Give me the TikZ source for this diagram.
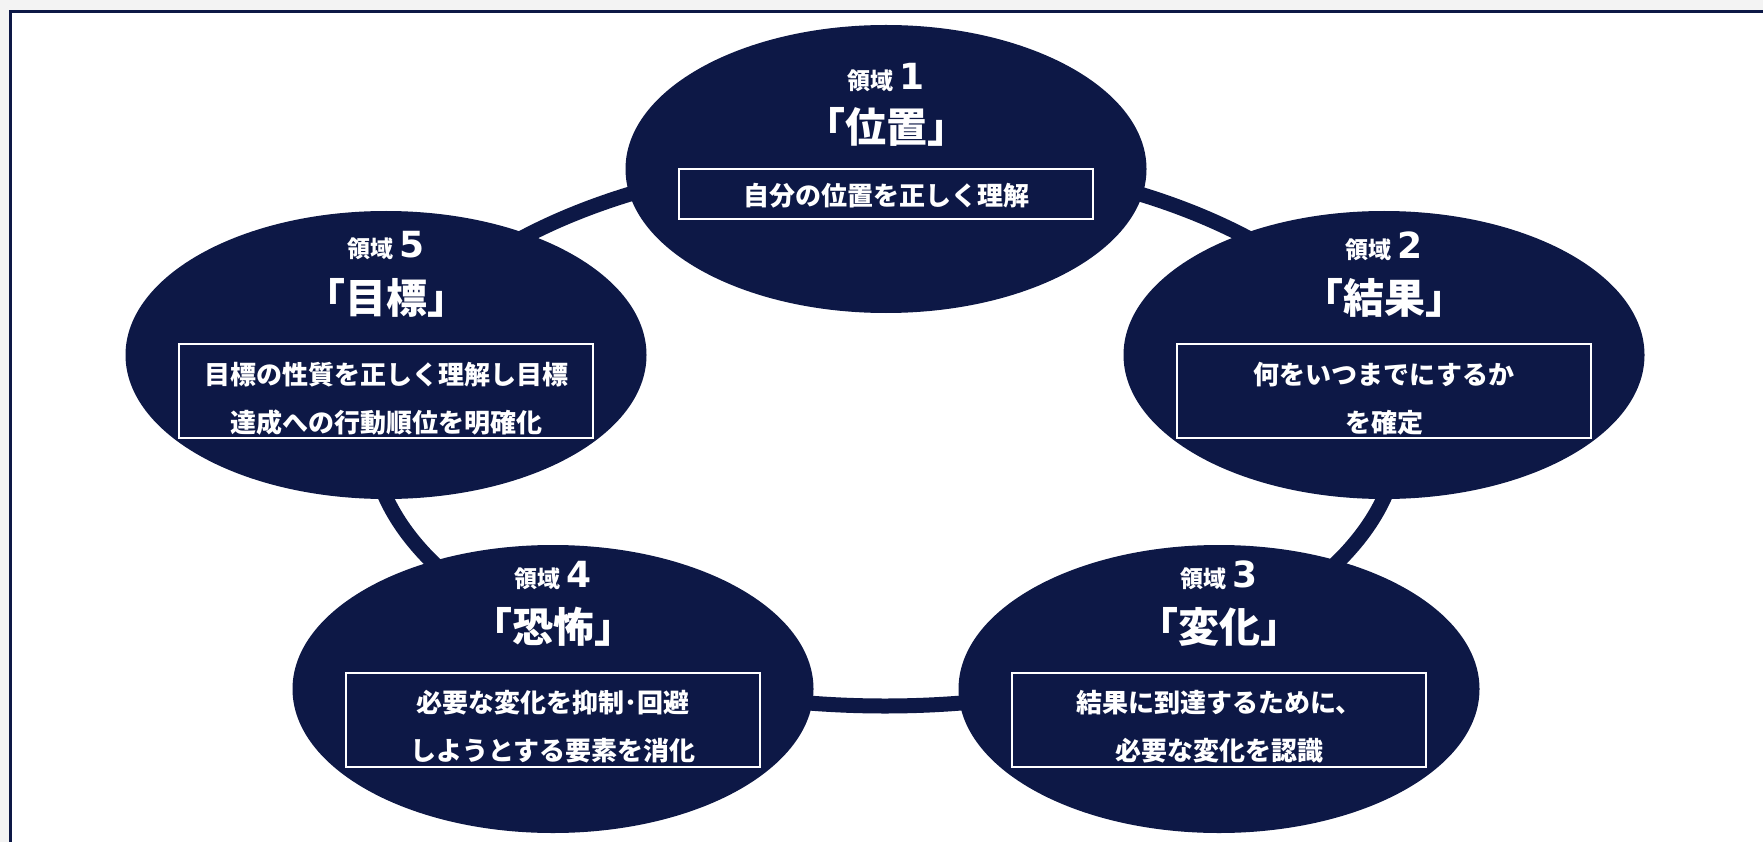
\documentclass[tikz,border=0pt]{standalone}
\usepackage{fontspec}
\setmainfont{Noto Sans CJK JP}
\newfontfamily\numfont{DejaVu Sans}
\usetikzlibrary{shapes.geometric}
\definecolor{navy}{RGB}{13,24,70}
\definecolor{bggray}{RGB}{243,243,243}
\newcommand{\areanum}[1]{{\numfont\bfseries\fontsize{36}{36}\selectfont #1}}
\begin{document}
\begin{tikzpicture}[x=1pt,y=-1pt,
  area/.style={ellipse, fill=navy, minimum width=521pt, minimum height=288pt, inner sep=0pt, outer sep=0pt},
  lbl/.style={text=white, inner sep=0pt, font=\bfseries\fontsize{23}{23}\selectfont},
  ttl/.style={text=white, inner sep=0pt, font=\bfseries\fontsize{41}{41}\selectfont},
  onebox/.style={draw=white, line width=2.2pt, minimum width=414pt, minimum height=50pt, inner sep=0pt},
  twobox/.style={draw=white, line width=2.2pt, minimum width=414pt, minimum height=94pt, inner sep=0pt},
  desc/.style={text=white, inner sep=0pt, align=center, font=\bfseries\fontsize{26}{48}\selectfont},
  ring/.style={draw=navy, line width=15pt}
]
\useasboundingbox (0,0) rectangle (1763,842);
\fill[bggray] (0,0) rectangle (1763,842);
\fill[white] (10.5,11.5) rectangle (1763,842);
\draw[navy, line width=3pt] (10.5,842) -- (10.5,11.5) -- (1763,11.5);

% ring behind the areas
\coordinate (rc) at (885,432);
\draw[ring] (rc) ellipse [x radius=514pt, y radius=274pt];

% areas
\node[area] (e1) at (886,169) {};
\node[area] (e2) at (1384,355) {};
\node[area] (e3) at (1219,689) {};
\node[area] (e4) at (553,689) {};
\node[area] (e5) at (386,355) {};

% area 1
\node[lbl] (l1) at (886,78) {領域 \areanum{1}};
\node[ttl] (t1) at (886,127) {「位置」};
\node[onebox] (b1) at (886,194) {};
\node[desc] (d1) at (886,196) {自分の位置を正しく理解};

% area 2
\node[lbl] (l2) at (1384,246) {領域 \areanum{2}};
\node[ttl] (t2) at (1384,298) {「結果」};
\node[twobox] (b2) at (1384,391) {};
\node[desc] (d2) at (1384,399) {何をいつまでにするか\\を確定};

% area 3
\node[lbl] (l3) at (1219,575) {領域 \areanum{3}};
\node[ttl] (t3) at (1219,627) {「変化」};
\node[twobox] (b3) at (1219,720) {};
\node[desc] (d3) at (1219,727) {結果に到達するために、\\必要な変化を認識};

% area 4
\node[lbl] (l4) at (553,575) {領域 \areanum{4}};
\node[ttl] (t4) at (553,627) {「恐怖」};
\node[twobox] (b4) at (553,720) {};
\node[desc] (d4) at (553,727) {必要な変化を抑制･回避\\しようとする要素を消化};

% area 5
\node[lbl] (l5) at (386,246) {領域 \areanum{5}};
\node[ttl] (t5) at (386,298) {「目標」};
\node[twobox] (b5) at (386,391) {};
\node[desc] (d5) at (386,399) {目標の性質を正しく理解し目標\\達成への行動順位を明確化};
\end{tikzpicture}
\end{document}
